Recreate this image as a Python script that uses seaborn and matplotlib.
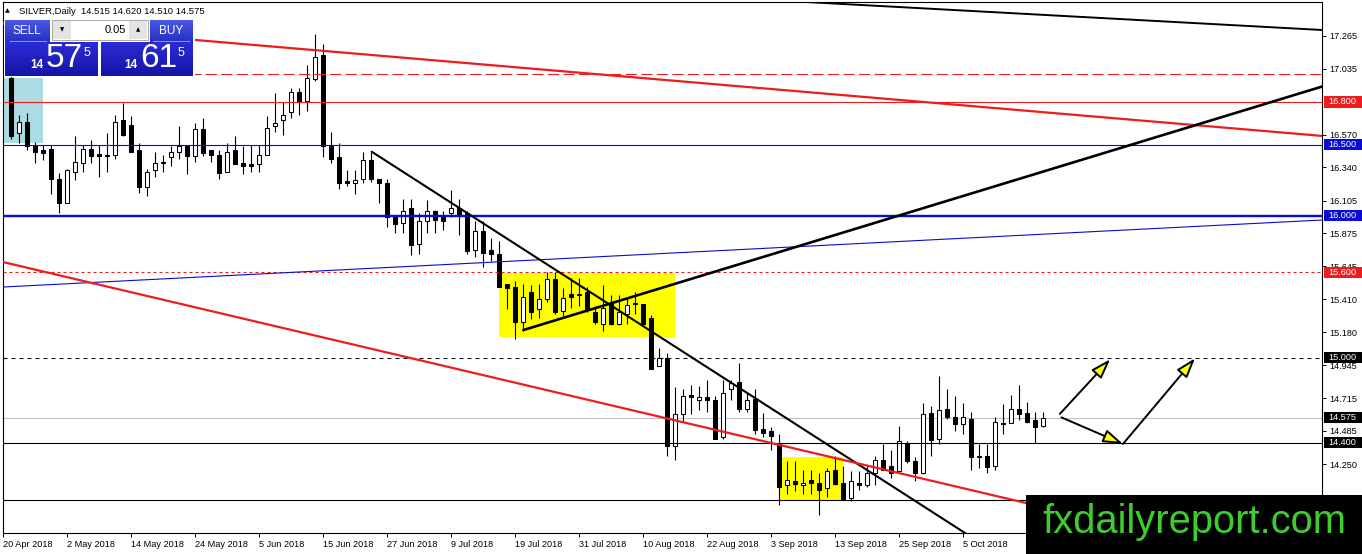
import matplotlib
matplotlib.use("Agg")
import numpy as np
import matplotlib.pyplot as plt
from matplotlib.patches import Rectangle
from matplotlib.colors import LinearSegmentedColormap
import seaborn as sns

W, H = 1362, 554

# daily OHLC, one bar per trading day from 23 Apr 2018
opens = [16.97, 16.58, 16.66, 16.50, 16.46, 16.47, 16.26, 16.09, 16.31, 16.37,
         16.47, 16.434, 16.42, 16.43, 16.67, 16.64, 16.46, 16.20, 16.32, 16.368,
         16.41, 16.45, 16.49, 16.42, 16.61, 16.46, 16.43, 16.31, 16.46, 16.37,
         16.36, 16.36, 16.43, 16.63, 16.67, 16.73, 16.87, 16.81, 16.96, 17.13,
         16.49, 16.41, 16.244, 16.23, 16.26, 16.39, 16.26, 16.23, 16.00, 15.95,
         16.05, 15.80, 15.96, 16.03, 15.99, 16.02, 16.05, 16.02, 15.76, 15.89,
         15.76, 15.73, 15.52, 15.50, 15.25, 15.46, 15.34, 15.41, 15.55, 15.33,
         15.45, 15.44, 15.46, 15.32, 15.24, 15.38, 15.24, 15.31, 15.38, 15.38,
         15.28, 14.94, 15.00, 14.38, 14.60, 14.74, 14.70, 14.72, 14.70, 14.44,
         14.78, 14.83, 14.64, 14.71, 14.50, 14.48, 14.39, 14.10, 14.13, 14.10,
         14.14, 14.12, 14.08, 14.21, 14.12, 14.01, 14.12, 14.10, 14.19, 14.28,
         14.24, 14.20, 14.40, 14.27, 14.19, 14.61, 14.43, 14.64, 14.58, 14.53,
         14.57, 14.31, 14.31, 14.24, 14.54, 14.54, 14.64, 14.61, 14.56, 14.515]
highs = [16.99, 16.71, 16.72, 16.52, 16.50, 16.50, 16.30, 16.33, 16.56, 16.50,
         16.53, 16.50, 16.58, 16.71, 16.79, 16.70, 16.51, 16.33, 16.45, 16.43,
         16.49, 16.63, 16.49, 16.65, 16.69, 16.46, 16.46, 16.51, 16.56, 16.49,
         16.50, 16.50, 16.70, 16.86, 16.80, 16.90, 16.90, 17.06, 17.28, 17.21,
         16.59, 16.51, 16.32, 16.32, 16.45, 16.45, 16.26, 16.26, 16.00, 16.12,
         16.12, 16.02, 16.11, 16.04, 16.03, 16.18, 16.12, 16.03, 15.96, 15.96,
         15.84, 15.82, 15.52, 15.54, 15.52, 15.51, 15.52, 15.60, 15.60, 15.49,
         15.56, 15.56, 15.50, 15.36, 15.51, 15.44, 15.44, 15.42, 15.46, 15.38,
         15.30, 15.07, 15.03, 14.79, 14.78, 14.81, 14.80, 14.84, 14.73, 14.84,
         14.84, 14.96, 14.75, 14.78, 14.61, 14.51, 14.46, 14.27, 14.27, 14.21,
         14.21, 14.19, 14.22, 14.31, 14.24, 14.20, 14.20, 14.24, 14.31, 14.39,
         14.35, 14.52, 14.41, 14.30, 14.68, 14.66, 14.87, 14.78, 14.73, 14.68,
         14.62, 14.39, 14.39, 14.58, 14.67, 14.74, 14.81, 14.69, 14.62, 14.620]
lows = [16.54, 16.51, 16.46, 16.37, 16.39, 16.15, 16.02, 16.09, 16.25, 16.31,
        16.37, 16.27, 16.31, 16.40, 16.56, 16.45, 16.16, 16.14, 16.27, 16.31,
        16.35, 16.40, 16.29, 16.38, 16.42, 16.38, 16.26, 16.31, 16.36, 16.29,
        16.31, 16.31, 16.43, 16.59, 16.57, 16.69, 16.71, 16.74, 16.95, 16.41,
        16.37, 16.19, 16.21, 16.15, 16.23, 16.24, 16.09, 15.92, 15.88, 15.88,
        15.72, 15.73, 15.88, 15.88, 15.90, 15.99, 15.86, 15.73, 15.71, 15.64,
        15.68, 15.50, 15.34, 15.13, 15.19, 15.27, 15.28, 15.39, 15.31, 15.29,
        15.35, 15.36, 15.32, 15.24, 15.19, 15.23, 15.23, 15.24, 15.31, 15.23,
        14.92, 14.94, 14.31, 14.28, 14.55, 14.60, 14.63, 14.62, 14.43, 14.43,
        14.70, 14.62, 14.62, 14.46, 14.44, 14.35, 13.96, 14.04, 14.06, 14.04,
        14.04, 13.89, 14.02, 14.10, 14.00, 13.99, 14.07, 14.09, 14.10, 14.21,
        14.15, 14.20, 14.26, 14.13, 14.18, 14.31, 14.39, 14.57, 14.48, 14.46,
        14.21, 14.22, 14.19, 14.21, 14.46, 14.54, 14.56, 14.54, 14.40, 14.510]
closes = [16.56, 16.66, 16.49, 16.45, 16.44, 16.26, 16.09, 16.32, 16.38, 16.47,
          16.42, 16.422, 16.43, 16.66, 16.57, 16.45, 16.20, 16.31, 16.37, 16.373,
          16.45, 16.49, 16.42, 16.61, 16.44, 16.43, 16.30, 16.45, 16.36, 16.35,
          16.35, 16.43, 16.62, 16.65, 16.71, 16.87, 16.80, 16.97, 17.12, 16.49,
          16.40, 16.23, 16.227, 16.25, 16.39, 16.26, 16.23, 15.99, 15.94, 16.03,
          15.79, 15.96, 16.03, 15.97, 15.96, 16.05, 16.00, 15.75, 15.89, 15.74,
          15.73, 15.50, 15.49, 15.25, 15.43, 15.32, 15.41, 15.55, 15.32, 15.42,
          15.43, 15.45, 15.34, 15.25, 15.35, 15.24, 15.32, 15.37, 15.38, 15.24,
          14.92, 15.00, 14.38, 14.60, 14.73, 14.72, 14.72, 14.70, 14.43, 14.75,
          14.82, 14.64, 14.70, 14.49, 14.47, 14.45, 14.09, 14.14, 14.11, 14.12,
          14.12, 14.07, 14.20, 14.11, 14.00, 14.13, 14.10, 14.19, 14.28, 14.21,
          14.19, 14.41, 14.27, 14.19, 14.60, 14.42, 14.63, 14.58, 14.53, 14.58,
          14.30, 14.30, 14.23, 14.55, 14.53, 14.64, 14.60, 14.55, 14.51, 14.575]

date_labels = ["20 Apr 2018", "2 May 2018", "14 May 2018", "24 May 2018", "5 Jun 2018",
               "15 Jun 2018", "27 Jun 2018", "9 Jul 2018", "19 Jul 2018", "31 Jul 2018",
               "10 Aug 2018", "22 Aug 2018", "3 Sep 2018", "13 Sep 2018", "25 Sep 2018",
               "5 Oct 2018"]
price_ticks = [17.265, 17.035, 16.570, 16.340, 16.105, 15.875, 15.645, 15.410,
               15.180, 14.945, 14.715, 14.485, 14.250]

# horizontal levels and their tags on the price scale
level_values = [17.0, 16.8, 16.5, 16.0, 15.6, 15.0, 14.575, 14.4, 14.0]
level_tags = [None, "16.800", "16.500", "16.000", "15.600", "15.000", "14.575", "14.400", None]

# trend lines: (bar, price) anchors
trend_start_bar = [101.75, 23.0, -1.0, 64.04, 45.09, -1.0]
trend_start_price = [17.497, 17.237, 15.497, 15.194, 16.450, 15.673]
trend_end_bar = [163.9, 163.9, 163.9, 163.9, 119.25, 126.875]
trend_end_price = [17.307, 16.561, 15.969, 16.909, 13.765, 13.976]

# shaded zones: bar from/to, price low/high
zone_bars = [(61.0, 83.0), (96.0, 104.0), (-1.0, 4.0)]
zone_prices = [(15.147, 15.598), (13.992, 14.298), (16.511, 16.97)]

# projected path arrows
arrow_from = [(131.1, 14.603), (131.3, 14.579), (139.0, 14.392)]
arrow_to = [(137.4, 14.988), (139.0, 14.392), (148.0, 14.995)]

RED = "#ee1c1c"
BLUE = "#0a0ad2"

sns.set_theme(style="white")
plt.rcParams["font.family"] = ["Liberation Sans", "DejaVu Sans"]

fig = plt.figure(figsize=(W / 100, H / 100), dpi=100)
ax = fig.add_axes([3 / W, 1 - 533 / H, (1322 - 3) / W, (533 - 2) / H])
ax.set_facecolor("white")

x = np.arange(len(opens))
o = np.array(opens)
c = np.array(closes)

# zones behind the candles
zone_colors = ["#ffff00", "#ffff00", "#acdbe3"]
for (b0, b1), (p0, p1), col in zip(zone_bars, zone_prices, zone_colors):
    ax.add_patch(Rectangle((b0, p0), b1 - b0, p1 - p0, facecolor=col, edgecolor="none", zorder=1))

# candles
ax.vlines(x, lows, highs, color="black", linewidth=0.8, zorder=2)
body_low = np.minimum(o, c)
body_h = np.maximum(np.abs(c - o), 0.006)
fills = np.where(c < o, "black", "white")
ax.bar(x, body_h, bottom=body_low, width=0.55, color=fills, edgecolor="black",
       linewidth=0.75, zorder=3)

# horizontal levels
level_colors = [RED, RED, BLUE, BLUE, RED, "black", "#c0c0c0", "black", "black"]
level_widths = [0.8, 0.8, 0.8, 1.7, 0.8, 0.8, 0.8, 0.8, 0.8]
level_styles = [(0, (10, 4)), "-", "-", "-", (0, (2.7, 2.7)), (0, (3.6, 3.6)), "-", "-", "-"]
for val, col, lw, ls in zip(level_values, level_colors, level_widths, level_styles):
    ax.axhline(val, color=col, linewidth=lw, linestyle=ls, zorder=1.5 if col == "#c0c0c0" else 4)

# trend lines
trend_colors = ["black", RED, BLUE, "black", "black", RED]
trend_widths = [1.4, 1.6, 0.8, 1.9, 1.5, 1.6]
trend_is_ray = [False, False, False, True, True, False]
for b0, p0, b1, p1, col, lw, ray in zip(trend_start_bar, trend_start_price, trend_end_bar,
                                       trend_end_price, trend_colors, trend_widths, trend_is_ray):
    slope = (p1 - p0) / (b1 - b0)
    xs = b0 if ray else -20.0
    xe = 220.0
    sns.lineplot(x=[xs, xe], y=[p0 + slope * (xs - b0), p0 + slope * (xe - b0)], ax=ax,
                 color=col, linewidth=lw, sort=False, estimator=None, zorder=5)

# arrows
for start, end in zip(arrow_from, arrow_to):
    ax.annotate("", xy=end, xytext=start,
                arrowprops=dict(arrowstyle="-|>,head_length=0.6,head_width=0.2",
                                facecolor="#ffff00", edgecolor="black", linewidth=1.4,
                                mutation_scale=20, shrinkA=0, shrinkB=0),
                zorder=6)

ax.set_xlim(-1, 163.875)
ax.set_ylim(13.7648, 17.5042)
ax.set_xlabel("")
ax.set_ylabel("")

# price scale on the right
ax.yaxis.tick_right()
ax.set_yticks(price_ticks)
ax.set_yticklabels([f"{t:.3f}" for t in price_ticks])
ax.tick_params(axis="y", direction="out", length=3, width=0.7, pad=2, labelsize=6.6,
               colors="black", right=True, left=False)

# date scale
ax.set_xticks(np.arange(len(date_labels)) * 8 - 1)
ax.set_xticklabels(date_labels)
for lbl in ax.get_xticklabels():
    lbl.set_horizontalalignment("left")
ax.tick_params(axis="x", direction="out", length=3, width=0.7, pad=2, labelsize=6.6,
               colors="black", bottom=True)
for sp in ax.spines.values():
    sp.set_color("black")
    sp.set_linewidth(0.8)

# level tags
tag_colors = [None, RED, BLUE, BLUE, RED, "black", "black", "black", None]
ytrans = ax.get_yaxis_transform()
for val, tag, col in zip(level_values, level_tags, tag_colors):
    if tag is None:
        continue
    ax.add_patch(Rectangle((1.0015, val - 0.039), 0.0285, 0.078, transform=ytrans,
                           facecolor=col, edgecolor="none", clip_on=False, zorder=10))
    ax.text(1.0157, val, tag, transform=ytrans, color="white", fontsize=6.6,
            ha="center", va="center", clip_on=False, zorder=11)


def fig_rect(x0, y0, x1, y1, **kw):
    fig.add_artist(Rectangle((x0 / W, 1 - y1 / H), (x1 - x0) / W, (y1 - y0) / H,
                             transform=fig.transFigure, **kw))


def fig_text(px, py, s, **kw):
    kw.setdefault("zorder", 5)
    fig.text(px / W, 1 - py / H, s, **kw)


def fig_gradient(x0, y0, x1, y1, top, bottom):
    gax = fig.add_axes([x0 / W, 1 - y1 / H, (x1 - x0) / W, (y1 - y0) / H])
    gax.set_zorder(2)
    gax.axis("off")
    cmap = LinearSegmentedColormap.from_list("grad", [bottom, top])
    gax.imshow(np.linspace(1, 0, 64)[:, None], aspect="auto", cmap=cmap,
               interpolation="bilinear")


# header and one-click trading panel
fig_text(7, 11, "▲", fontsize=4.5, color="black", ha="center", va="center",
         family="DejaVu Sans")
fig_text(19, 11, f"SILVER,Daily  {opens[-1]:.3f} {highs[-1]:.3f} {lows[-1]:.3f} {closes[-1]:.3f}",
         fontsize=6.8, color="black", ha="left", va="center")
fig_rect(4, 19, 195, 77, facecolor="white", edgecolor="none", zorder=1)
fig_gradient(5, 20, 50, 42, "#4a58e6", "#2630c4")
fig_gradient(150, 20, 193, 42, "#4a58e6", "#2630c4")
fig_gradient(5, 42, 98, 76, "#2c2cd6", "#1414a6")
fig_gradient(101, 42, 193, 76, "#2c2cd6", "#1414a6")
fig_rect(10, 41.4, 47, 42.4, facecolor="#8d93e0", edgecolor="none", zorder=3)
fig_rect(153, 41.4, 190, 42.4, facecolor="#8d93e0", edgecolor="none", zorder=3)
fig_rect(52, 20, 148, 40, facecolor="white", edgecolor="#a8a8a8", linewidth=0.7, zorder=3)
fig_rect(53, 21, 71, 39, facecolor="#e4e4e4", edgecolor="none", zorder=3)
fig_rect(129, 21, 147, 39, facecolor="#e4e4e4", edgecolor="none", zorder=3)
fig_text(62, 30, "▼", fontsize=4, color="black", ha="center", va="center", family="DejaVu Sans")
fig_text(138, 30, "▲", fontsize=4, color="black", ha="center", va="center", family="DejaVu Sans")
fig_text(126, 30, "0.05", fontsize=8, color="black", ha="right", va="center")
fig_text(27, 31, "SELL", fontsize=8.5, color="white", ha="center", va="center")
fig_text(171, 31, "BUY", fontsize=8.5, color="white", ha="center", va="center")
for cx, big in [(0, "57"), (94.5, "61")]:
    fig_text(36.5 + cx, 65.5, "14", fontsize=8.5, color="white", ha="center", va="center",
             weight="bold")
    fig_text(64 + cx, 58.5, big, fontsize=24, color="white", ha="center", va="center")
    fig_text(86.5 + cx, 52.5, "5", fontsize=9, color="white", ha="center", va="center")

# watermark box
fig_rect(1026, 495, W, H, facecolor="black", edgecolor="none", zorder=20)
fig.text(1042 / W, 1 - 533 / H, "fxdailyreport.com", fontsize=28.7, color="#3ccf2c",
         ha="left", va="baseline", zorder=21)

fig.savefig("out.png", dpi=100)
